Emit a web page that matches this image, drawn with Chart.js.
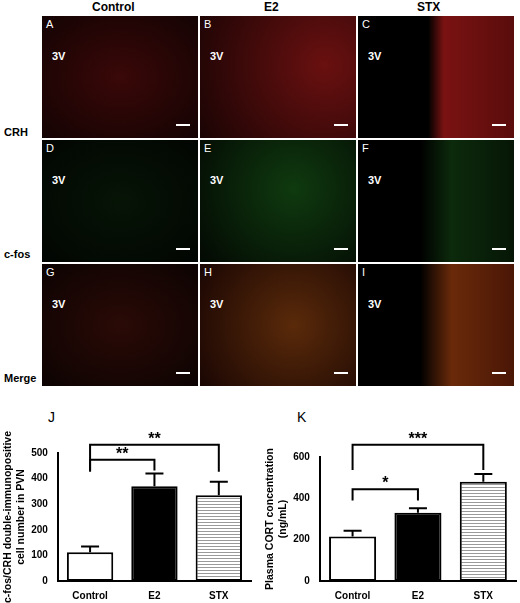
<!DOCTYPE html>
<html>
<head>
<meta charset="utf-8">
<script src="https://cdn.jsdelivr.net/npm/chart.js@4.4.0/dist/chart.umd.min.js"></script>
<style>
  body { margin: 0; width: 520px; height: 603px; background: #fff; font-family: "Liberation Sans", Arial, sans-serif; position: relative; overflow: hidden; }
  .hdr { position: absolute; top: 0; font-weight: bold; font-size: 12px; }
  .row { position: absolute; left: 4px; font-weight: bold; font-size: 11px; }
  .pan { position: absolute; width: 156px; height: 122px; background: #0b0303; }
  .pan .l { position: absolute; left: 4px; top: 2px; color: #fff; font-size: 11px; }
  .pan .v { position: absolute; left: 10px; top: 34px; color: #fff; font-weight: bold; font-size: 11px; }
  .pan .s { position: absolute; right: 8px; bottom: 12px; width: 14px; height: 2px; background: #fff; }
  .lab { position: absolute; font-size: 14px; }
  canvas { position: absolute; }
</style>
</head>
<body>
<div class="hdr" style="left:92px">Control</div>
<div class="hdr" style="left:264px">E2</div>
<div class="hdr" style="left:417px">STX</div>
<div class="row" style="top:126px">CRH</div>
<div class="row" style="top:248px">c-fos</div>
<div class="row" style="top:372px">Merge</div>
<div id="grid"></div>
<div class="lab" style="left:48px;top:409px">J</div>
<div class="lab" style="left:297px;top:409px">K</div>
<div style="position:absolute;left:0;top:417px;width:255px;height:186px"><canvas id="cj"></canvas></div>
<div style="position:absolute;left:262px;top:421px;width:258px;height:182px"><canvas id="ck"></canvas></div>
<script>
const groups = ['Control', 'E2', 'STX'];
const jMeans = [112, 370, 335];
const jUpper = [135, 420, 388];
const jTicks = [0, 100, 200, 300, 400, 500];
const kMeans = [215, 330, 480];
const kUpper = [243, 352, 518];
const kTicks = [0, 200, 400, 600];
// brackets: [from, to, y, leftDrop, rightDrop, label]
const jBrackets = [[0, 1, 474, 432, 432, '**'], [0, 2, 532, 427, 427, '**']];
const kBrackets = [[0, 1, 444, 390, 390, '*'], [0, 2, 659, 537, 537, '***']];

// image panels (placeholder tints)
const panelLetters = ['A','B','C','D','E','F','G','H','I'];
const panelBg = [
  'radial-gradient(#3a0808,#140303)', 'radial-gradient(circle at 80% 40%,#6a1010,#1a0404)', 'linear-gradient(90deg,#000 0 45%,#7a1212 55%,#5a0c0c)',
  'radial-gradient(#061406,#020502)', 'radial-gradient(circle at 60% 40%,#0f3a0f,#030803)', 'linear-gradient(90deg,#000 0 40%,#0c2a0c 60%,#061606)',
  'radial-gradient(#2a0a06,#0c0302)', 'radial-gradient(circle at 60% 50%,#5a2a0a,#1a0603)', 'linear-gradient(90deg,#000 0 40%,#6a2a0a 60%,#4a1606)'
];
const grid = document.getElementById('grid');
panelLetters.forEach((t, i) => {
  const d = document.createElement('div');
  d.className = 'pan';
  d.style.left = (42 + (i % 3) * 158) + 'px';
  d.style.top = (16 + Math.floor(i / 3) * 124) + 'px';
  d.style.background = panelBg[i];
  d.innerHTML = '<span class="l">' + t + '</span><span class="v">3V</span><span class="s"></span>';
  grid.appendChild(d);
});

function stripes() {
  const c = document.createElement('canvas');
  c.width = 4; c.height = 3;
  const x = c.getContext('2d');
  x.fillStyle = '#fff'; x.fillRect(0, 0, 4, 3);
  x.fillStyle = '#999'; x.fillRect(0, 0, 4, 1);
  return x.createPattern(c, 'repeat');
}

const extras = {
  id: 'extras',
  afterDatasetsDraw(chart, args, opts) {
    const { ctx, scales: { x, y } } = chart;
    ctx.save();
    ctx.strokeStyle = '#000'; ctx.lineWidth = 2;
    opts.upper.forEach((u, i) => {
      const cx = x.getPixelForValue(i);
      ctx.beginPath();
      ctx.moveTo(cx, y.getPixelForValue(opts.means[i]));
      ctx.lineTo(cx, y.getPixelForValue(u));
      ctx.moveTo(cx - 9, y.getPixelForValue(u));
      ctx.lineTo(cx + 9, y.getPixelForValue(u));
      ctx.stroke();
    });
    ctx.fillStyle = '#000';
    ctx.font = 'bold 16px "Liberation Sans"';
    ctx.textAlign = 'center';
    opts.brackets.forEach(b => {
      const x1 = x.getPixelForValue(b[0]), x2 = x.getPixelForValue(b[1]);
      const yy = y.getPixelForValue(b[2]);
      ctx.beginPath();
      ctx.moveTo(x1, y.getPixelForValue(b[3]));
      ctx.lineTo(x1, yy); ctx.lineTo(x2, yy);
      ctx.lineTo(x2, y.getPixelForValue(b[4]));
      ctx.stroke();
      ctx.fillText(b[5], (x1 + x2) / 2, yy - 1);
    });
    ctx.restore();
  }
};

function makeChart(id, means, upper, ticks, brackets, title) {
  return new Chart(document.getElementById(id), {
    type: 'bar',
    data: {
      labels: groups,
      datasets: [{
        data: means,
        backgroundColor: ['#fff', '#000', stripes()],
        borderColor: '#000',
        borderWidth: 2,
        borderSkipped: false,
        barPercentage: 0.72,
        categoryPercentage: 1
      }]
    },
    options: {
      responsive: true,
      maintainAspectRatio: false,
      animation: false,
      layout: { padding: { top: 36, right: 4 } },
      plugins: {
        legend: { display: false },
        tooltip: { enabled: false },
        extras: { means: means, upper: upper, brackets: brackets }
      },
      scales: {
        x: {
          grid: { display: false },
          border: { color: '#000', width: 2 },
          ticks: { color: '#000', padding: 1, font: { family: 'Liberation Sans', size: 10, weight: 'bold' } }
        },
        y: {
          min: 0, max: ticks[ticks.length - 1],
          afterBuildTicks: s => { s.ticks = ticks.map(v => ({ value: v })); },
          grid: { display: false, drawTicks: true },
          border: { color: '#000', width: 2 },
          ticks: { color: '#000', padding: 2, font: { family: 'Liberation Sans', size: 10, weight: 'bold' } },
          title: { display: true, text: title, color: '#000', padding: 2, font: { family: 'Liberation Sans', size: 10.5, weight: 'bold' } }
        }
      }
    },
    plugins: [extras]
  });
}

makeChart('cj', jMeans, jUpper, jTicks, jBrackets, ['c-fos/CRH double-immunopositive', 'cell number in PVN']);
makeChart('ck', kMeans, kUpper, kTicks, kBrackets, ['Plasma CORT concentration', '(ng/mL)']);
</script>
</body>
</html>
